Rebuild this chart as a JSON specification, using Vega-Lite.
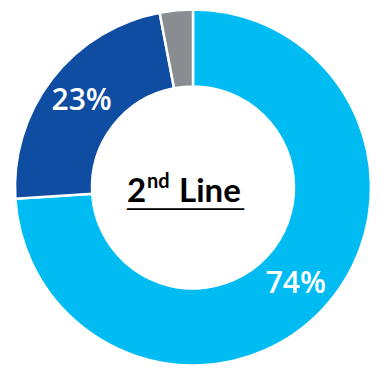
{
  "$schema": "https://vega.github.io/schema/vega-lite/v6.json",
  "width": 384,
  "height": 376,
  "autosize": {"type": "fit", "contains": "padding"},
  "padding": {"left": 2, "right": 0, "top": 0, "bottom": 1},
  "background": "white",
  "view": {"stroke": null},
  "data": {"values": [
    {"cat": "A", "order": 1, "value": 74, "label": "74%"},
    {"cat": "B", "order": 2, "value": 23, "label": "23%"},
    {"cat": "C", "order": 3, "value": 3, "label": ""}
  ]},
  "layer": [
    {
      "mark": {"type": "arc", "innerRadius": 101, "outerRadius": 178, "stroke": "white", "strokeWidth": 2.5},
      "encoding": {
        "theta": {"field": "value", "type": "quantitative", "stack": true},
        "order": {"field": "order", "type": "quantitative"},
        "color": {"field": "cat", "type": "nominal", "legend": null,
          "scale": {"domain": ["A", "B", "C"], "range": ["#00BCF2", "#0E4DA1", "#898C90"]}}
      }
    },
    {
      "mark": {"type": "text", "radius": 141, "font": "Open Sans", "fontSize": 30, "fontWeight": 600, "fill": "white", "align": "center", "baseline": "middle"},
      "encoding": {
        "theta": {"field": "value", "type": "quantitative", "stack": true},
        "order": {"field": "order", "type": "quantitative"},
        "text": {"field": "label"}
      }
    },
    {
      "data": {"values": [{"t": "2"}]},
      "mark": {"type": "text", "font": "Lato", "fontWeight": "bold", "fontSize": 33, "fill": "black", "align": "left", "baseline": "alphabetic", "dx": -66, "dy": 14.5},
      "encoding": {"text": {"field": "t"}}
    },
    {
      "data": {"values": [{"t": "nd"}]},
      "mark": {"type": "text", "font": "Lato", "fontWeight": "bold", "fontSize": 20, "fill": "black", "align": "left", "baseline": "alphabetic", "dx": -46, "dy": 0.5},
      "encoding": {"text": {"field": "t"}}
    },
    {
      "data": {"values": [{"t": "Line"}]},
      "mark": {"type": "text", "font": "Lato", "fontWeight": "bold", "fontSize": 33, "fill": "black", "align": "left", "baseline": "alphabetic", "dx": -14, "dy": 14.5},
      "encoding": {"text": {"field": "t"}}
    },
    {
      "data": {"values": [{"t": "_________"}]},
      "mark": {"type": "text", "font": "DejaVu Sans", "fontSize": 26, "fill": "black", "align": "left", "baseline": "alphabetic", "dx": -66, "dy": 16},
      "encoding": {"text": {"field": "t"}}
    }
  ]
}
